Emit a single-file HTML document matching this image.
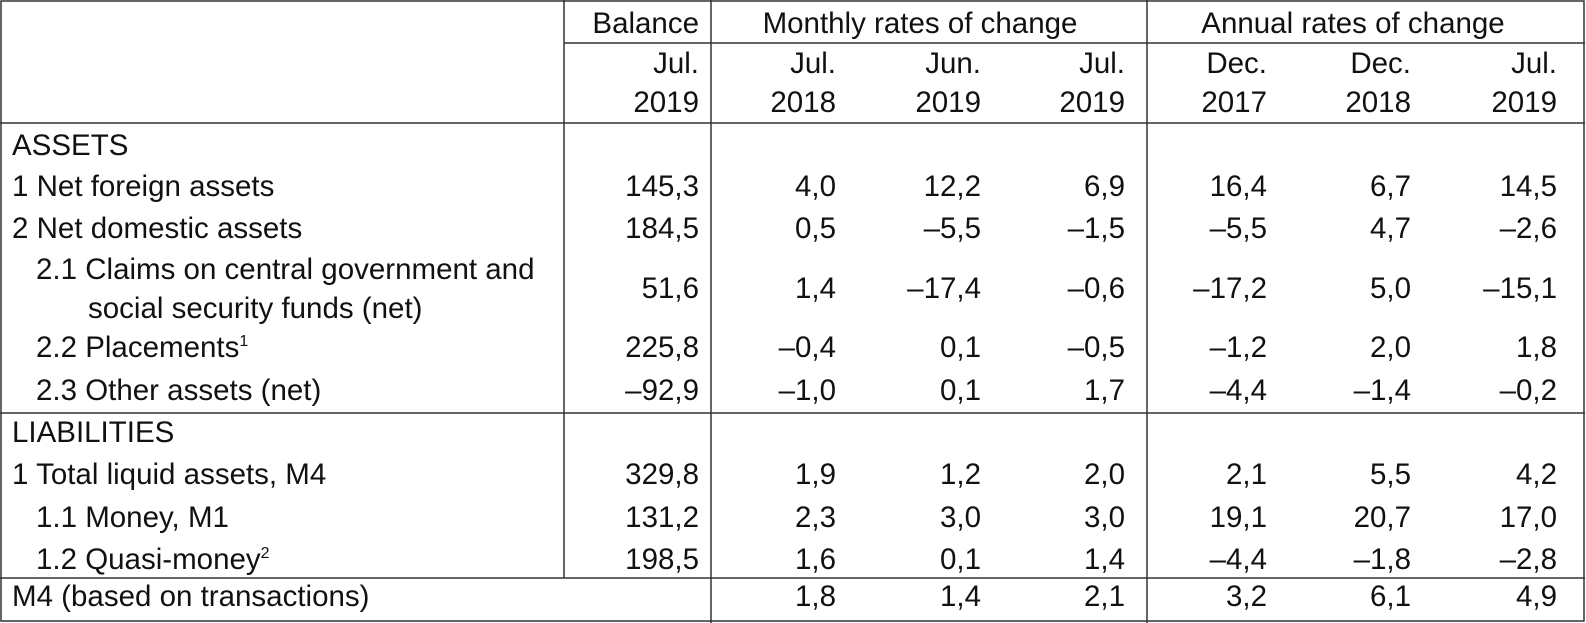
<!DOCTYPE html>
<html><head><meta charset="utf-8"><style>
html,body{margin:0;padding:0;background:#fff;}
svg{display:block;}
text{font-family:"Liberation Sans",Arial,sans-serif;font-size:29.5px;fill:#111;}
.r{text-anchor:end;}
.c{text-anchor:middle;}
</style></head><body>
<svg width="1586" height="623" viewBox="0 0 1586 623" xmlns="http://www.w3.org/2000/svg">
<g stroke="#333" stroke-width="1.5" fill="none">
<rect x="1" y="1" width="1583" height="620"/>
<line x1="564" y1="43" x2="1585" y2="43"/>
<line x1="0" y1="123" x2="1585" y2="123"/>
<line x1="0" y1="413" x2="1585" y2="413"/>
<line x1="0" y1="578" x2="1585" y2="578"/>
<line x1="564" y1="0" x2="564" y2="578"/>
<line x1="711" y1="0" x2="711" y2="623"/>
<line x1="1147" y1="0" x2="1147" y2="623"/>
</g>
<text class="r" x="699" y="33">Balance</text>
<text class="c" x="920" y="33">Monthly rates of change</text>
<text class="c" x="1353" y="33">Annual rates of change</text>
<g>
<text class="r" x="699" y="73">Jul.</text><text class="r" x="699" y="112">2019</text>
<text class="r" x="836" y="73">Jul.</text><text class="r" x="836" y="112">2018</text>
<text class="r" x="981" y="73">Jun.</text><text class="r" x="981" y="112">2019</text>
<text class="r" x="1125" y="73">Jul.</text><text class="r" x="1125" y="112">2019</text>
<text class="r" x="1267" y="73">Dec.</text><text class="r" x="1267" y="112">2017</text>
<text class="r" x="1411" y="73">Dec.</text><text class="r" x="1411" y="112">2018</text>
<text class="r" x="1557" y="73">Jul.</text><text class="r" x="1557" y="112">2019</text>
</g>
<text x="12" y="155">ASSETS</text>
<text x="12" y="196">1 Net foreign assets</text>
<text x="12" y="238">2 Net domestic assets</text>
<text x="36" y="279">2.1 Claims on central government and</text>
<text x="88" y="318">social security funds (net)</text>
<text x="36" y="357">2.2 Placements<tspan font-size="16" dy="-11">1</tspan></text>
<text x="36" y="400">2.3 Other assets (net)</text>
<text x="12" y="442">LIABILITIES</text>
<text x="12" y="484">1 Total liquid assets, M4</text>
<text x="36" y="527">1.1 Money, M1</text>
<text x="36" y="569">1.2 Quasi-money<tspan font-size="16" dy="-11">2</tspan></text>
<text x="12" y="606">M4 (based on transactions)</text>
<g>
<text class="r" x="699" y="196">145,3</text><text class="r" x="836" y="196">4,0</text><text class="r" x="981" y="196">12,2</text><text class="r" x="1125" y="196">6,9</text><text class="r" x="1267" y="196">16,4</text><text class="r" x="1411" y="196">6,7</text><text class="r" x="1557" y="196">14,5</text>
<text class="r" x="699" y="238">184,5</text><text class="r" x="836" y="238">0,5</text><text class="r" x="981" y="238">–5,5</text><text class="r" x="1125" y="238">–1,5</text><text class="r" x="1267" y="238">–5,5</text><text class="r" x="1411" y="238">4,7</text><text class="r" x="1557" y="238">–2,6</text>
<text class="r" x="699" y="298">51,6</text><text class="r" x="836" y="298">1,4</text><text class="r" x="981" y="298">–17,4</text><text class="r" x="1125" y="298">–0,6</text><text class="r" x="1267" y="298">–17,2</text><text class="r" x="1411" y="298">5,0</text><text class="r" x="1557" y="298">–15,1</text>
<text class="r" x="699" y="357">225,8</text><text class="r" x="836" y="357">–0,4</text><text class="r" x="981" y="357">0,1</text><text class="r" x="1125" y="357">–0,5</text><text class="r" x="1267" y="357">–1,2</text><text class="r" x="1411" y="357">2,0</text><text class="r" x="1557" y="357">1,8</text>
<text class="r" x="699" y="400">–92,9</text><text class="r" x="836" y="400">–1,0</text><text class="r" x="981" y="400">0,1</text><text class="r" x="1125" y="400">1,7</text><text class="r" x="1267" y="400">–4,4</text><text class="r" x="1411" y="400">–1,4</text><text class="r" x="1557" y="400">–0,2</text>
<text class="r" x="699" y="484">329,8</text><text class="r" x="836" y="484">1,9</text><text class="r" x="981" y="484">1,2</text><text class="r" x="1125" y="484">2,0</text><text class="r" x="1267" y="484">2,1</text><text class="r" x="1411" y="484">5,5</text><text class="r" x="1557" y="484">4,2</text>
<text class="r" x="699" y="527">131,2</text><text class="r" x="836" y="527">2,3</text><text class="r" x="981" y="527">3,0</text><text class="r" x="1125" y="527">3,0</text><text class="r" x="1267" y="527">19,1</text><text class="r" x="1411" y="527">20,7</text><text class="r" x="1557" y="527">17,0</text>
<text class="r" x="699" y="569">198,5</text><text class="r" x="836" y="569">1,6</text><text class="r" x="981" y="569">0,1</text><text class="r" x="1125" y="569">1,4</text><text class="r" x="1267" y="569">–4,4</text><text class="r" x="1411" y="569">–1,8</text><text class="r" x="1557" y="569">–2,8</text>
<text class="r" x="836" y="606">1,8</text><text class="r" x="981" y="606">1,4</text><text class="r" x="1125" y="606">2,1</text><text class="r" x="1267" y="606">3,2</text><text class="r" x="1411" y="606">6,1</text><text class="r" x="1557" y="606">4,9</text>
</g>
</svg>
</body></html>
